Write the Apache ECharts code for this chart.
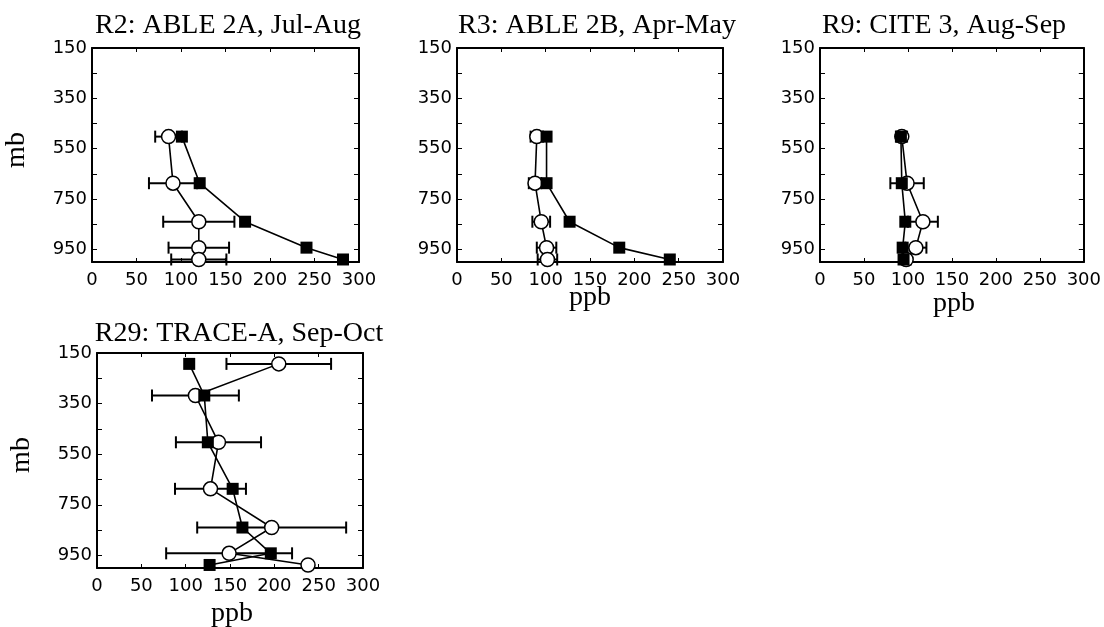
<!DOCTYPE html>
<html>
<head>
<meta charset="utf-8">
<title>Ozone profiles</title>
<script src="https://cdn.jsdelivr.net/npm/echarts@6/dist/echarts.min.js"></script>
<style>
  html, body { margin: 0; padding: 0; background: #fff; }
  #main { width: 1104px; height: 627px; }
</style>
</head>
<body>
<div id="main"></div>
<script>
// pressure levels (mb)
var levels = [502, 687, 840, 943, 990];
var levelsR29 = [193, 318, 503, 687, 840, 942, 988];

// open circles = mean with +/- bars, filled squares = second profile (ppb)
var r2Open = [86, 91, 120, 120, 120];
var r2Err = [15, 27, 40, 34, 31];
var r2Filled = [101, 121, 172, 241, 282];

var r3Open = [90, 88, 95, 101, 102];
var r3Err = [7, 7, 10, 11, 11];
var r3Filled = [101, 101, 127, 183, 240];

var r9Open = [93, 99, 117, 109, 98];
var r9Err = [6, 19, 17, 12, 5];
var r9Filled = [92, 93, 97, 94, 95];

var r29Open = [205, 111, 137, 128, 197, 149, 238];
var r29Err = [59, 49, 48, 40, 84, 71, 0];
var r29Filled = [104, 121, 125, 153, 164, 196, 127];

var yLabels = [150, 350, 550, 750, 950];
var yTicks = [250, 350, 450, 550, 650, 750, 850, 950];

var panels = [
    {title: 'R2: ABLE 2A, Jul-Aug', lev: levels, open: r2Open, err: r2Err, filled: r2Filled,
     left: 92, top: 48, width: 267, height: 214, tx: 228, ty: 26},
    {title: 'R3: ABLE 2B, Apr-May', lev: levels, open: r3Open, err: r3Err, filled: r3Filled,
     left: 457, top: 48, width: 266, height: 214, tx: 597, ty: 26},
    {title: 'R9: CITE 3, Aug-Sep', lev: levels, open: r9Open, err: r9Err, filled: r9Filled,
     left: 820, top: 48, width: 268, height: 214, tx: 944, ty: 26},
    {title: 'R29: TRACE-A, Sep-Oct', lev: levelsR29, open: r29Open, err: r29Err, filled: r29Filled,
     left: 97, top: 353, width: 266, height: 215, tx: 239, ty: 334}
];

var black = '#000';
var tickFont = {fontFamily: 'DejaVu Sans', fontSize: 18, color: black};
var serif = 'Liberation Serif';

function errorBar(params, api) {
    var lo = api.coord([api.value(0), api.value(2)]);
    var hi = api.coord([api.value(1), api.value(2)]);
    var h = 6;
    var st = {stroke: black, lineWidth: 2};
    return {
        type: 'group',
        children: [
            {type: 'line', shape: {x1: lo[0], y1: lo[1], x2: hi[0], y2: hi[1]}, style: st},
            {type: 'line', shape: {x1: lo[0], y1: lo[1] - h, x2: lo[0], y2: lo[1] + h}, style: st},
            {type: 'line', shape: {x1: hi[0], y1: hi[1] - h, x2: hi[0], y2: hi[1] + h}, style: st}
        ]
    };
}

var grids = [], xAxes = [], yAxes = [], series = [], texts = [];

panels.forEach(function (p, i) {
    grids.push({left: p.left, top: p.top, width: p.width, height: p.height});

    var axLine = {show: true, onZero: false, lineStyle: {color: black, width: 2}};
    xAxes.push({
        type: 'value', gridIndex: i, min: 0, max: 300, interval: 50, position: 'bottom',
        axisLine: axLine,
        axisTick: {inside: true, length: 4, lineStyle: {color: black}},
        axisLabel: Object.assign({margin: 9}, tickFont),
        splitLine: {show: false}
    });
    xAxes.push({
        type: 'value', gridIndex: i, min: 0, max: 300, interval: 50, position: 'top',
        axisLine: axLine,
        axisTick: {inside: true, length: 4, lineStyle: {color: black}},
        axisLabel: {show: false},
        splitLine: {show: false}
    });
    yAxes.push({
        type: 'value', gridIndex: i, min: 150, max: 1000, inverse: true, position: 'left',
        axisLine: axLine,
        axisTick: {inside: true, length: 5, customValues: yTicks, lineStyle: {color: black}},
        axisLabel: Object.assign({margin: 5, customValues: yLabels}, tickFont),
        splitLine: {show: false}
    });
    yAxes.push({
        type: 'value', gridIndex: i, min: 150, max: 1000, inverse: true, position: 'right',
        axisLine: axLine,
        axisTick: {inside: true, length: 5, customValues: yTicks, lineStyle: {color: black}},
        axisLabel: {show: false},
        splitLine: {show: false}
    });

    var bars = [], openPts = [], filledPts = [];
    p.lev.forEach(function (lv, k) {
        if (p.err[k] > 0) bars.push([p.open[k] - p.err[k], p.open[k] + p.err[k], lv]);
        openPts.push([p.open[k], lv]);
        filledPts.push([p.filled[k], lv]);
    });

    series.push({
        type: 'custom', xAxisIndex: 2 * i, yAxisIndex: 2 * i,
        renderItem: errorBar, data: bars, encode: {x: [0, 1], y: 2}, z: 2
    });
    series.push({
        type: 'line', xAxisIndex: 2 * i, yAxisIndex: 2 * i, data: openPts,
        symbol: 'circle', symbolSize: 14, showAllSymbol: true,
        lineStyle: {color: black, width: 1.6},
        itemStyle: {color: '#fff', borderColor: black, borderWidth: 1.5}, z: 3
    });
    series.push({
        type: 'line', xAxisIndex: 2 * i, yAxisIndex: 2 * i, data: filledPts,
        symbol: 'rect', symbolSize: 12, showAllSymbol: true,
        lineStyle: {color: black, width: 1.6},
        itemStyle: {color: black}, z: 4
    });

    texts.push({
        type: 'text', x: p.tx, y: p.ty,
        style: {text: p.title, font: '28px ' + serif, fill: black, textAlign: 'center', textVerticalAlign: 'middle'}
    });
});

// axis names
var nameFont = '28px ' + serif;
texts.push({type: 'text', x: 17, y: 150, rotation: Math.PI / 2,
    style: {text: 'mb', font: nameFont, fill: black, textAlign: 'center', textVerticalAlign: 'middle'}});
texts.push({type: 'text', x: 22, y: 455, rotation: Math.PI / 2,
    style: {text: 'mb', font: nameFont, fill: black, textAlign: 'center', textVerticalAlign: 'middle'}});
texts.push({type: 'text', x: 590, y: 298,
    style: {text: 'ppb', font: nameFont, fill: black, textAlign: 'center', textVerticalAlign: 'middle'}});
texts.push({type: 'text', x: 954, y: 304,
    style: {text: 'ppb', font: nameFont, fill: black, textAlign: 'center', textVerticalAlign: 'middle'}});
texts.push({type: 'text', x: 232, y: 614,
    style: {text: 'ppb', font: nameFont, fill: black, textAlign: 'center', textVerticalAlign: 'middle'}});

var chart = echarts.init(document.getElementById('main'));
chart.setOption({
    animation: false,
    backgroundColor: '#fff',
    grid: grids,
    xAxis: xAxes,
    yAxis: yAxes,
    series: series,
    graphic: texts
});
</script>
</body>
</html>
